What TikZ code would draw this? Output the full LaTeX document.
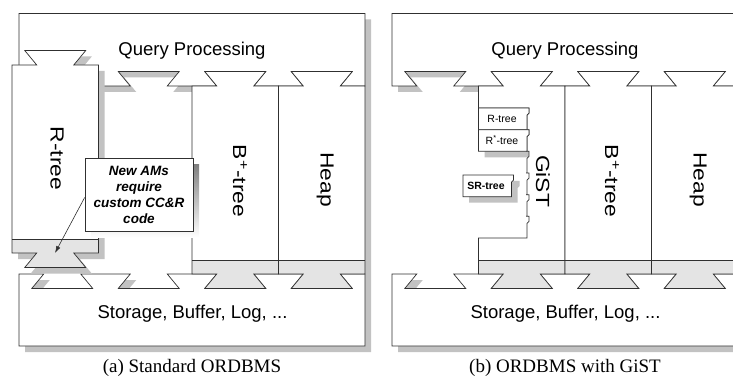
\documentclass[tikz,border=0pt]{standalone}
\usepackage{fontspec}
\setmainfont{Liberation Serif}
\setsansfont{Liberation Sans}
\usetikzlibrary{arrows.meta}

\definecolor{shade}{HTML}{C2C2C2}
\definecolor{band}{HTML}{E4E4E4}
\definecolor{ink}{HTML}{303030}

% dovetail sockets in the lower edge of the query layer and the upper edge of the storage layer
\newcommand\qsock[1]{-- ({#1+18.5},86) -- ({#1+30.5},71.5) -- ({#1-30.5},71.5) -- ({#1-18.5},86)}
\newcommand\ssock[1]{-- ({#1-18.5},274) -- ({#1-30.5},288.5) -- ({#1+30.5},288.5) -- ({#1+18.5},274)}
\newcommand\qpshape{(19,13.5) -- (365,13.5) -- (365,86) \qsock{321.75} \qsock{235.25} \qsock{148.75} \qsock{62.25} -- (19,86) -- cycle}
\newcommand\stshape{(19,274) \ssock{62.25} \ssock{148.75} \ssock{235.25} \ssock{321.75} -- (365,274) -- (365,346) -- (19,346) -- cycle}
% an access-method column: left, right, centre of its tenons
\newcommand\colshape[3]{(#1,86) -- ({#3-18.5},86) -- ({#3-30.5},71.5) -- ({#3+30.5},71.5) -- ({#3+18.5},86) -- (#2,86) -- (#2,274) -- ({#3+18.5},274) -- ({#3+30.5},288.5) -- ({#3-30.5},288.5) -- ({#3-18.5},274) -- (#1,274) -- cycle}
\newcommand\colband[3]{(#1,260) -- (#2,260) -- (#2,274) -- ({#3+18.5},274) -- ({#3+30.5},288.5) -- ({#3-30.5},288.5) -- ({#3-18.5},274) -- (#1,274) -- cycle}
\newcommand\putcolumn[3]{%
  \fill[white] \colshape{#1}{#2}{#3};
  \fill[band] \colband{#1}{#2}{#3};
  \draw[outline] (#1,260) -- (#2,260);
  \draw[outline] \colshape{#1}{#2}{#3};}
% GiST extension slots
\newcommand\gjag[1]{-- (153,#1) -- (156,#1) -- (156,{#1+5}) -- (154,{#1+7}) -- (154,{#1+21.67})}
\newcommand\gistshape{(105.5,108) \gjag{108} \gjag{129.67} \gjag{151.33} \gjag{173} \gjag{194.67} \gjag{216.33} -- (105.5,238) -- (105.5,274) -- (130.25,274) -- (118.25,288.5) -- (179.25,288.5) -- (167.25,274) -- (192,274) -- (192,86) -- (167.25,86) -- (179.25,71.5) -- (118.25,71.5) -- (130.25,86) -- (105.5,86) -- cycle}
\newcommand\plugshape[1]{(105.5,#1) -- (153,#1) -- (156,#1) -- (156,{#1+5}) -- (154,{#1+7}) -- (154,{#1+21.67}) -- (105.5,{#1+21.67}) -- cycle}

\tikzset{
  outline/.style={draw=ink, line width=0.7pt, line join=miter},
  paper/.style={outline, fill=white},
  shadow/.style={fill=shade, shift={(6,6)}},
  big/.style={font=\sffamily\fontsize{18.5}{20}\selectfont, anchor=base, inner sep=0pt},
  vlabel/.style={font=\sffamily\fontsize{19}{20}\selectfont, rotate=-90, xscale=1.2, anchor=base, inner sep=0pt},
  small/.style={font=\sffamily\fontsize{10.5}{12}\selectfont, inner sep=0pt},
  caption/.style={font=\fontsize{19}{20}\selectfont, anchor=base, inner sep=0pt},
}

\begin{document}
\begin{tikzpicture}[x=1pt,y=-1pt]
\useasboundingbox (0,0) rectangle (733,382);
\clip (0,0) rectangle (733,382);

% ---------- (a) standard ORDBMS ----------
\fill[shadow] \qpshape;
\fill[shadow] \stshape;
\fill[shadow] \colshape{192}{278.5}{235.25};
\fill[shadow] \colshape{278.5}{365}{321.75};
\filldraw[paper] \qpshape;
\filldraw[paper] \stshape;
\putcolumn{192}{278.5}{235.25}
\putcolumn{278.5}{365}{321.75}
% the R-tree, pulled out of its slot
\begin{scope}[shift={(-7,-21)}]
  \fill[shadow] \colshape{19}{105.5}{62.25};
  \putcolumn{19}{105.5}{62.25}
\end{scope}

\node[big] (qpa) at (192,56) {Query Processing};
\node[big] (sta) at (192.5,318) {Storage, Buffer, Log, ...};
\node[vlabel] (rtree) at (50.5,158.5) {R-tree};
\node[vlabel] (bta) at (233,181) {B\textsuperscript{+}-tree};
\node[vlabel] (hpa) at (320.5,179.5) {Heap};

\fill[shade] (91,164.5) rectangle (199,237.5);
\node[paper, minimum width=108pt, minimum height=73pt, inner sep=0pt, align=center,
      font=\sffamily\bfseries\itshape\fontsize{13.5}{16}\selectfont] (callout) at (139,194.5)
      {New AMs\\require\\custom CC\&R\\code};
\coordinate (tip) at (55,253);
\draw[ink, line width=0.6pt, -{Latex[length=7pt,width=4.5pt]}] ([yshift=-3pt]callout.west) -- (tip);

\node[caption] (capa) at (192,372) {(a) Standard ORDBMS};

% ---------- (b) ORDBMS with GiST ----------
\begin{scope}[xshift=373pt]
  \fill[shadow] \qpshape;
  \fill[shadow] \stshape;
  \fill[shadow] \gistshape;
  \fill[shadow] \colshape{192}{278.5}{235.25};
  \fill[shadow] \colshape{278.5}{365}{321.75};
  \fill[shadow] \plugshape{108};
  \fill[shadow] \plugshape{129.67};
  \filldraw[paper] \qpshape;
  \filldraw[paper] \stshape;
  % GiST column with its extension slots
  \fill[white] \gistshape;
  \fill[band] \colband{105.5}{192}{148.75};
  \draw[outline] (105.5,260) -- (192,260);
  \draw[outline] \gistshape;
  \putcolumn{192}{278.5}{235.25}
  \putcolumn{278.5}{365}{321.75}
  % plugged-in extensions
  \filldraw[paper] \plugshape{108};
  \filldraw[paper] \plugshape{129.67};
  \begin{scope}[shift={(-15.5,2)}]
    \fill[shadow] \plugshape{173};
    \filldraw[paper] \plugshape{173};
  \end{scope}

  \node[big] (qpb) at (192,56) {Query Processing};
  \node[big] (stb) at (192.5,318) {Storage, Buffer, Log, ...};
  \node[vlabel] (gist) at (163,181) {GiST};
  \node[vlabel] (btb) at (232,181) {B\textsuperscript{+}-tree};
  \node[vlabel] (hpb) at (320.5,179.5) {Heap};
  \node[small] (pr) at (129,119) {R-tree};
  \node[small] (prs) at (129,140.5) {R\textsuperscript{*}-tree};
  \node[small, font=\sffamily\bfseries\fontsize{10.5}{12}\selectfont] (psr) at (113,186) {SR-tree};

  \node[caption] (capb) at (192,372) {(b) ORDBMS with GiST};
\end{scope}
\end{tikzpicture}
\end{document}
